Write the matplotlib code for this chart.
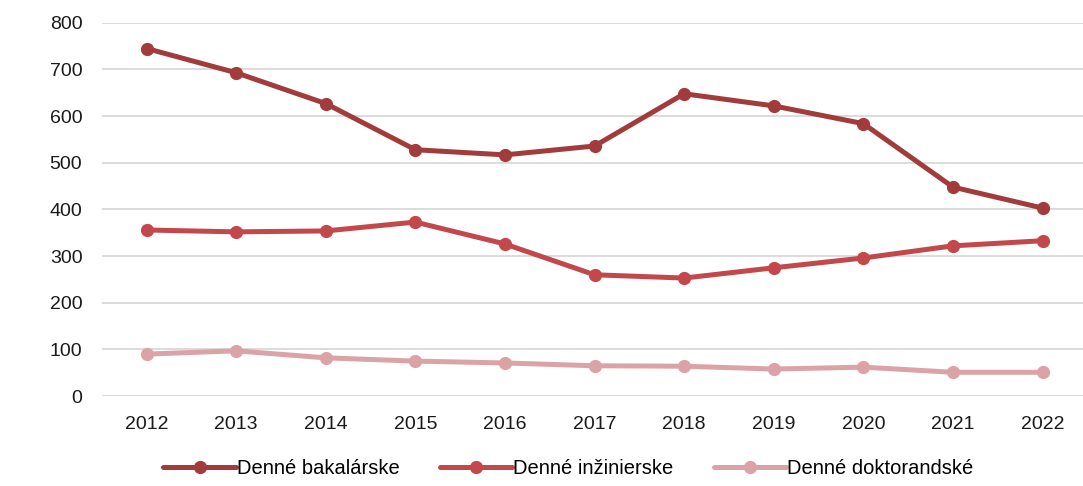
import matplotlib
matplotlib.use("Agg")
import matplotlib.pyplot as plt

plt.rcParams['font.family'] = ['Liberation Sans', 'DejaVu Sans']

years = ["2012", "2013", "2014", "2015", "2016", "2017", "2018", "2019", "2020", "2021", "2022"]
bakalarske = [745, 693, 627, 528, 517, 536, 648, 622, 584, 448, 403]
inzinierske = [356, 352, 354, 373, 326, 260, 253, 275, 296, 322, 333]
doktorandske = [90, 97, 82, 75, 71, 65, 64, 58, 62, 51, 51]
series_names = ["Denné bakalárske", "Denné inžinierske", "Denné doktorandské"]
colors = ["#A23B3B", "#C2484B", "#DBA3A5"]

fig = plt.figure(figsize=(10.83, 4.86), dpi=100)
ax = fig.add_axes([0.094, 0.185, 0.91, 0.768])

x = list(range(len(years)))
for vals, name, c in zip([bakalarske, inzinierske, doktorandske], series_names, colors):
    ax.plot(x, vals, color=c, lw=3.6, marker='o', markersize=8.5, label=name, solid_capstyle='round')

ax.set_ylim(0, 800)
ax.set_yticks(range(0, 801, 100))
ax.set_xlim(-0.5, 10.5)
ax.set_xticks(x)
ax.set_xticklabels(years)
ax.grid(axis='y', color='#D9D9D9', lw=1.3)
ax.set_axisbelow(True)
for s in ax.spines.values():
    s.set_visible(False)
ax.tick_params(axis='both', length=0, labelsize=14, colors='#1a1a1a')
ax.tick_params(axis='x', pad=14)
ax.tick_params(axis='y', pad=14)

leg = fig.legend(loc='center', bbox_to_anchor=(0.525, 0.035), ncol=3, frameon=False,
                 fontsize=14.5, handlelength=3.6, handletextpad=0.05, columnspacing=2.0)
fig.savefig("out.png", dpi=100)
